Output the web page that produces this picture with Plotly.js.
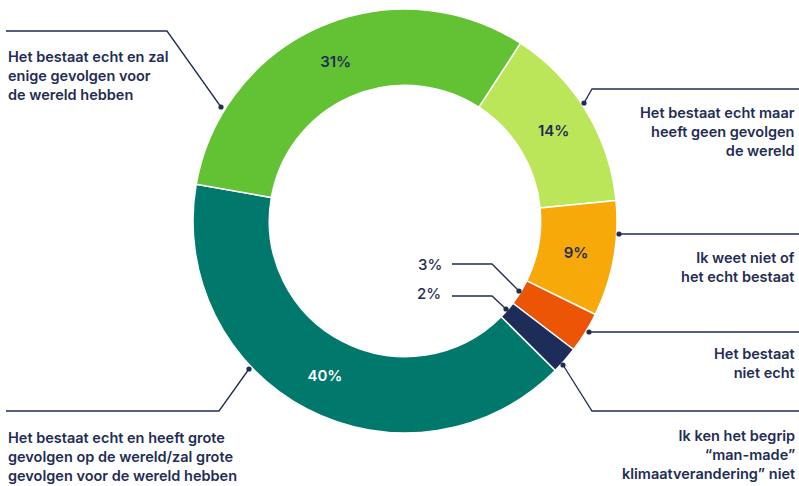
<!DOCTYPE html>
<html>
<head>
<meta charset="utf-8">
<script src="https://cdn.plot.ly/plotly-3.0.1.min.js"></script>
<style>html,body{margin:0;padding:0;background:#fff;}#chart{width:799px;height:486px;}</style>
</head>
<body>
<div id="chart"></div>
<script>
// Data (slice order, clockwise from the top-right)
const categories = [
  "Het bestaat echt maar heeft geen gevolgen de wereld",
  "Ik weet niet of het echt bestaat",
  "Het bestaat niet echt",
  "Ik ken het begrip “man-made” klimaatverandering niet",
  "Het bestaat echt en heeft grote gevolgen op de wereld/zal grote gevolgen voor de wereld hebben",
  "Het bestaat echt en zal enige gevolgen voor de wereld hebben"
];
const values = [14.3, 8.8, 3.1, 2.1, 40.3, 31.4];
const colors = ["#bce65a", "#f7a90a", "#ec5406", "#1c2d5a", "#00786b", "#62c234"];
const insideLabelColors = ["#1f2d55", "#1f2d55", "#1f2d55", "#1f2d55", "#ffffff", "#1f2d55"];
const outsideLabelSlices = [2, 3]; // small slices labelled in the hole

const W = 799, H = 486;
const NAVY = "#1f2d55";
const FONT = "Inter, 'Noto Sans', sans-serif";
const px = x => x / W;
const py = y => 1 - y / H;

const total = values.reduce((a, b) => a + b, 0);
const pctText = values.map((v, i) => outsideLabelSlices.includes(i) ? "" : Math.round(v / total * 100) + "%");

const trace = {
  type: "pie",
  labels: categories,
  values: values,
  sort: false,
  direction: "clockwise",
  rotation: 33,
  hole: 0.64,
  marker: { colors: colors, line: { color: "#ffffff", width: 1.5 } },
  text: pctText,
  textinfo: "text",
  textposition: "inside",
  insidetextorientation: "horizontal",
  insidetextfont: { family: FONT, size: 15, weight: 600, color: insideLabelColors },
  hoverinfo: "none",
  showlegend: false,
  domain: { x: [px(405 - 212), px(405 + 212)], y: [py(433), py(9)] }
};

// Leader lines: [dot, elbow, end] in pixel positions of the layout
const leaders = [
  [[221, 107], [167, 31], [6, 31]],
  [[584, 103], [592, 89], [799, 89]],
  [[619, 234], [619, 234], [799, 234]],
  [[519, 291], [492, 264], [452, 264]],
  [[506, 309], [492, 296], [452, 296]],
  [[589, 332], [589, 332], [799, 332]],
  [[563, 365], [592, 411], [799, 411]],
  [[249, 369], [219, 411], [6, 411]]
];
const shapes = [];
leaders.forEach(l => {
  shapes.push({
    type: "path", xref: "paper", yref: "paper",
    path: "M " + l.map(p => px(p[0]) + "," + py(p[1])).join(" L "),
    line: { color: NAVY, width: 1.3 }
  });
  const r = 2.6;
  shapes.push({
    type: "circle", xref: "paper", yref: "paper",
    x0: px(l[0][0] - r), x1: px(l[0][0] + r), y0: py(l[0][1] + r), y1: py(l[0][1] - r),
    fillcolor: NAVY, line: { width: 0 }
  });
});

const labelTexts = [
  "Het bestaat echt en zal<br>enige gevolgen voor<br>de wereld hebben",
  "Het bestaat echt maar<br>heeft geen gevolgen<br>de wereld",
  "Ik weet niet of<br>het echt bestaat",
  "3%",
  "2%",
  "Het bestaat<br>niet echt",
  "Ik ken het begrip<br>“man-made”<br>klimaatverandering” niet",
  "Het bestaat echt en heeft grote<br>gevolgen op de wereld/zal grote<br>gevolgen voor de wereld hebben"
];
const labelPos = [
  [6, 75, "left"],
  [797, 131.5, "right"],
  [797, 267, "right"],
  [444, 264, "right"],
  [443, 293, "right"],
  [797, 362.5, "right"],
  [797, 454.5, "right"],
  [6, 456, "left"]
];
const annotations = labelTexts.map((t, i) => ({
  xref: "paper", yref: "paper",
  x: px(labelPos[i][0]), y: py(labelPos[i][1]),
  xanchor: labelPos[i][2], yanchor: "middle", align: labelPos[i][2],
  text: t, showarrow: false,
  font: { family: FONT, size: (i === 3 || i === 4) ? 15 : 14.5, weight: (i === 3 || i === 4) ? 500 : 600, color: NAVY }
}));

const layout = {
  width: W, height: H,
  margin: { l: 0, r: 0, t: 0, b: 0 },
  paper_bgcolor: "#ffffff",
  showlegend: false,
  shapes: shapes,
  annotations: annotations
};

Plotly.newPlot("chart", [trace], layout, { displayModeBar: false, staticPlot: true });
</script>
</body>
</html>
